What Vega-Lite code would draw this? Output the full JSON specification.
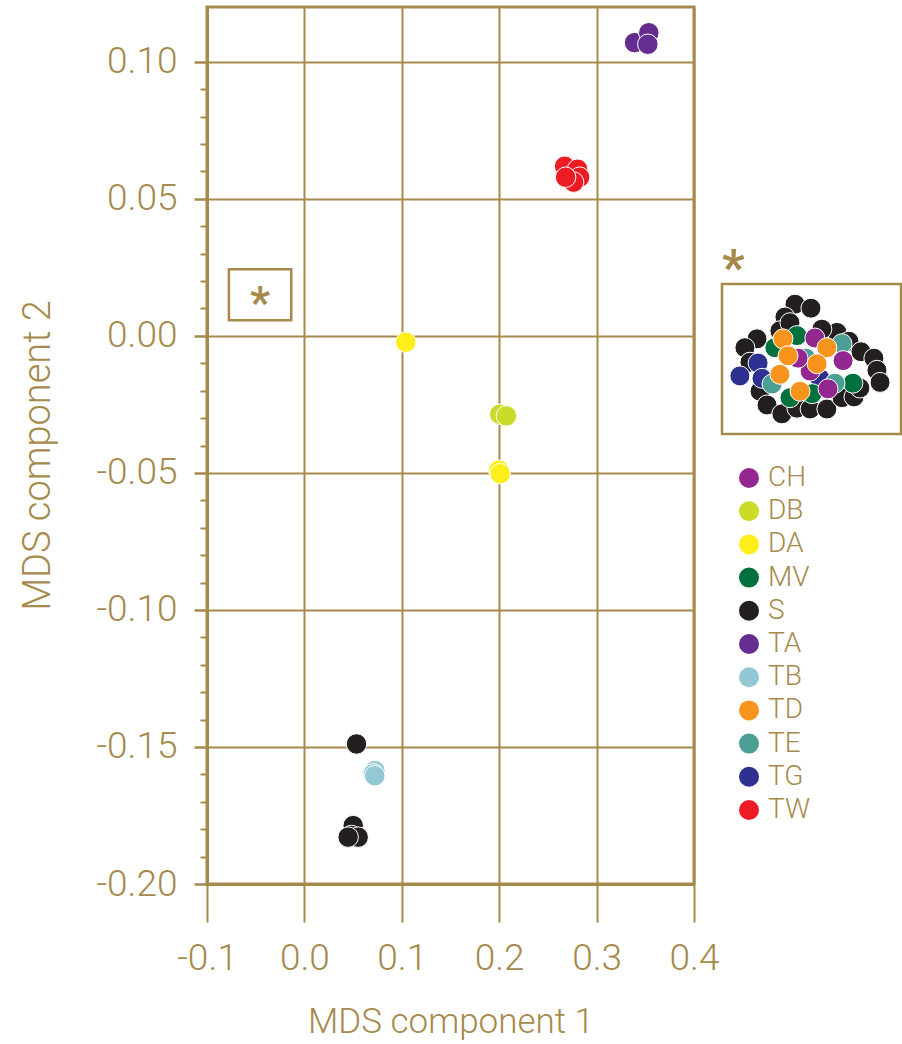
{
  "$schema": "https://vega.github.io/schema/vega-lite/v6.json",
  "background": "white",
  "padding": {"left": 18, "top": 5, "right": 0, "bottom": 0},
  "config": {
    "font": "Roboto",
    "locale": {"number": {"decimal": ".", "thousands": ",", "grouping": [3], "currency": ["", ""], "minus": "-"}},
    "concat": {"spacing": 28},
    "axis": {"labelColor": "#A58A4C", "titleColor": "#A58A4C", "tickColor": "#A58A4C", "domainColor": "#A58A4C", "gridColor": "#A58A4C", "gridOpacity": 1, "labelFont": "Roboto", "titleFont": "Roboto", "labelFontWeight": 300, "titleFontWeight": 300},
    "legend": {"labelFont": "Roboto", "labelColor": "#A58A4C", "labelFontWeight": 300}
  },
  "datasets": {
    "main": [
      {"group": "TA", "x": 0.339, "y": 0.107},
      {"group": "TA", "x": 0.3536, "y": 0.1106},
      {"group": "TA", "x": 0.3526, "y": 0.1064},
      {"group": "TW", "x": 0.2672, "y": 0.0619},
      {"group": "TW", "x": 0.2805, "y": 0.0608},
      {"group": "TW", "x": 0.2826, "y": 0.0579},
      {"group": "TW", "x": 0.2764, "y": 0.0561},
      {"group": "TW", "x": 0.2682, "y": 0.0579},
      {"group": "DA", "x": 0.1041, "y": -0.0023},
      {"group": "DB", "x": 0.2005, "y": -0.0286},
      {"group": "DB", "x": 0.2074, "y": -0.0292},
      {"group": "DA", "x": 0.1995, "y": -0.049},
      {"group": "DA", "x": 0.201, "y": -0.0503},
      {"group": "S", "x": 0.0535, "y": -0.1489},
      {"group": "S", "x": 0.0501, "y": -0.1787},
      {"group": "S", "x": 0.0484, "y": -0.1823},
      {"group": "S", "x": 0.0552, "y": -0.1829},
      {"group": "S", "x": 0.0449, "y": -0.1829},
      {"group": "TB", "x": 0.0723, "y": -0.1586},
      {"group": "TB", "x": 0.0706, "y": -0.1598},
      {"group": "TB", "x": 0.0723, "y": -0.1605}
    ],
    "inset": [
      {"group": "S", "x": -0.0514, "y": 0.0218},
      {"group": "S", "x": -0.0457, "y": 0.0213},
      {"group": "S", "x": -0.055, "y": 0.0202},
      {"group": "S", "x": -0.065, "y": 0.0175},
      {"group": "S", "x": -0.0693, "y": 0.0164},
      {"group": "S", "x": -0.0568, "y": 0.0185},
      {"group": "S", "x": -0.0364, "y": 0.0183},
      {"group": "S", "x": -0.0321, "y": 0.0172},
      {"group": "S", "x": -0.0278, "y": 0.0159},
      {"group": "S", "x": -0.0232, "y": 0.0151},
      {"group": "S", "x": -0.0221, "y": 0.0136},
      {"group": "S", "x": -0.021, "y": 0.0121},
      {"group": "S", "x": -0.0675, "y": 0.0146},
      {"group": "S", "x": -0.0639, "y": 0.011},
      {"group": "S", "x": -0.0614, "y": 0.0093},
      {"group": "S", "x": -0.0561, "y": 0.0082},
      {"group": "S", "x": -0.0507, "y": 0.0089},
      {"group": "S", "x": -0.046, "y": 0.0088},
      {"group": "S", "x": -0.04, "y": 0.0088},
      {"group": "S", "x": -0.0346, "y": 0.0102},
      {"group": "S", "x": -0.0303, "y": 0.0103},
      {"group": "S", "x": -0.0282, "y": 0.0114},
      {"group": "S", "x": -0.0532, "y": 0.0195},
      {"group": "S", "x": -0.0418, "y": 0.0187},
      {"group": "TG", "x": -0.0711, "y": 0.0129},
      {"group": "TG", "x": -0.0646, "y": 0.0145},
      {"group": "TG", "x": -0.0425, "y": 0.0126},
      {"group": "TG", "x": -0.0632, "y": 0.0126},
      {"group": "MV", "x": -0.0586, "y": 0.0164},
      {"group": "MV", "x": -0.0307, "y": 0.012},
      {"group": "MV", "x": -0.0507, "y": 0.0179},
      {"group": "MV", "x": -0.0532, "y": 0.0102},
      {"group": "MV", "x": -0.0453, "y": 0.0107},
      {"group": "TE", "x": -0.0596, "y": 0.0119},
      {"group": "TE", "x": -0.0346, "y": 0.0169},
      {"group": "TE", "x": -0.0371, "y": 0.012},
      {"group": "TE", "x": -0.0475, "y": 0.0151},
      {"group": "CH", "x": -0.0443, "y": 0.0176},
      {"group": "CH", "x": -0.0342, "y": 0.0148},
      {"group": "CH", "x": -0.0396, "y": 0.0113},
      {"group": "CH", "x": -0.046, "y": 0.0135},
      {"group": "CH", "x": -0.0503, "y": 0.0151},
      {"group": "TD", "x": -0.0557, "y": 0.0175},
      {"group": "TD", "x": -0.0539, "y": 0.0154},
      {"group": "TD", "x": -0.0568, "y": 0.0131},
      {"group": "TD", "x": -0.0496, "y": 0.011},
      {"group": "TD", "x": -0.04, "y": 0.0164},
      {"group": "TD", "x": -0.0435, "y": 0.0144}
    ],
    "box": [
      {"x1": -0.0775, "x2": -0.0135, "y1": 0.0057, "y2": 0.0243, "cx": -0.0455, "cy": 0.015, "label": "*"}
    ]
  },
  "bounds": "flush",
  "hconcat": [
    {
      "width": 487,
      "height": 877,
      "view": {"stroke": "#A58A4C", "strokeWidth": 3},
      "layer": [
        {
          "data": {"name": "main"},
          "mark": {"type": "circle", "size": 420, "opacity": 1, "stroke": "white", "strokeWidth": 1},
          "encoding": {
            "x": {"field": "x", "type": "quantitative",
              "scale": {"domain": [-0.1, 0.4], "nice": false, "zero": false},
              "axis": {"values": [-0.1, 0, 0.1, 0.2, 0.3, 0.4], "format": ".1f", "labelFontSize": 37, "labelPadding": 18, "tickSize": 38, "tickWidth": 2, "domainWidth": 3, "grid": true, "gridWidth": 2, "title": "MDS component 1", "titleFontSize": 35, "titlePadding": 28, "labelFlush": false, "labelOverlap": false}},
            "y": {"field": "y", "type": "quantitative",
              "scale": {"domain": [-0.2, 0.12], "nice": false, "zero": false},
              "axis": {"orient": "left", "values": [-0.2, -0.15, -0.1, -0.05, 0, 0.05, 0.1], "format": ".2f", "labelFontSize": 37, "labelPadding": 17, "tickSize": 13, "tickWidth": 2.5, "domainWidth": 3, "grid": true, "gridWidth": 2, "title": "MDS component 2", "titleFontSize": 38, "titlePadding": 38, "titleY": 448, "labelFlush": false, "labelOverlap": false}},
            "color": {"field": "group", "type": "nominal",
              "scale": {"domain": ["CH", "DB", "DA", "MV", "S", "TA", "TB", "TD", "TE", "TG", "TW"],
                "range": ["#92278F", "#CBDB2A", "#FFEE1A", "#00703C", "#231F20", "#662D91", "#92C8D3", "#F7941D", "#4C9F94", "#2E3192", "#ED1C24"]},
              "legend": {"title": null, "orient": "none", "legendX": 528, "legendY": 457, "symbolType": "circle", "symbolSize": 400, "symbolStrokeWidth": 0, "labelFontSize": 28, "labelOffset": 5, "rowPadding": 5.2}}
          }
        },
        {
          "data": {"name": "box"},
          "mark": {"type": "rect", "fill": "transparent", "stroke": "#A58A4C", "strokeWidth": 2.5},
          "encoding": {
            "x": {"field": "x1", "type": "quantitative"},
            "x2": {"field": "x2"},
            "y": {"field": "y1", "type": "quantitative",
              "axis": {"orient": "left", "values": [-0.19, -0.18, -0.17, -0.16, -0.14, -0.13, -0.12, -0.11, -0.09, -0.08, -0.07, -0.06, -0.04, -0.03, -0.02, -0.01, 0.01, 0.02, 0.03, 0.04, 0.06, 0.07, 0.08, 0.09], "labels": false, "domain": false, "grid": false, "ticks": true, "tickSize": 7, "tickWidth": 2, "title": null}},
            "y2": {"field": "y2"}
          }
        },
        {
          "data": {"name": "box"},
          "mark": {"type": "text", "fontSize": 44, "fontWeight": "bold", "color": "#A58A4C", "baseline": "middle", "align": "center", "dy": 10},
          "encoding": {
            "x": {"field": "cx", "type": "quantitative"},
            "y": {"field": "cy", "type": "quantitative", "axis": null},
            "text": {"field": "label"}
          }
        }
      ],
      "resolve": {"axis": {"y": "independent"}}
    },
    {
      "spacing": 0,
      "vconcat": [
        {
          "width": 179,
          "height": 236,
          "view": {"stroke": null},
          "data": {"values": []},
          "mark": "point"
        },
        {
          "width": 179,
          "height": 150,
          "view": {"stroke": "#A58A4C", "strokeWidth": 2.5},
          "title": {"text": "*", "anchor": "start", "fontSize": 50, "fontWeight": "bold", "color": "#A58A4C", "offset": -11},
          "data": {"name": "inset"},
          "mark": {"type": "circle", "size": 400, "opacity": 1, "stroke": "white", "strokeWidth": 1},
          "encoding": {
            "x": {"field": "x", "type": "quantitative", "scale": {"domain": [-0.0775, -0.0135], "nice": false, "zero": false}, "axis": null},
            "y": {"field": "y", "type": "quantitative", "scale": {"domain": [0.0057, 0.0243], "nice": false, "zero": false}, "axis": null},
            "color": {"field": "group", "type": "nominal",
              "scale": {"domain": ["CH", "DB", "DA", "MV", "S", "TA", "TB", "TD", "TE", "TG", "TW"],
                "range": ["#92278F", "#CBDB2A", "#FFEE1A", "#00703C", "#231F20", "#662D91", "#92C8D3", "#F7941D", "#4C9F94", "#2E3192", "#ED1C24"]}}
          }
        }
      ]
    }
  ]
}
